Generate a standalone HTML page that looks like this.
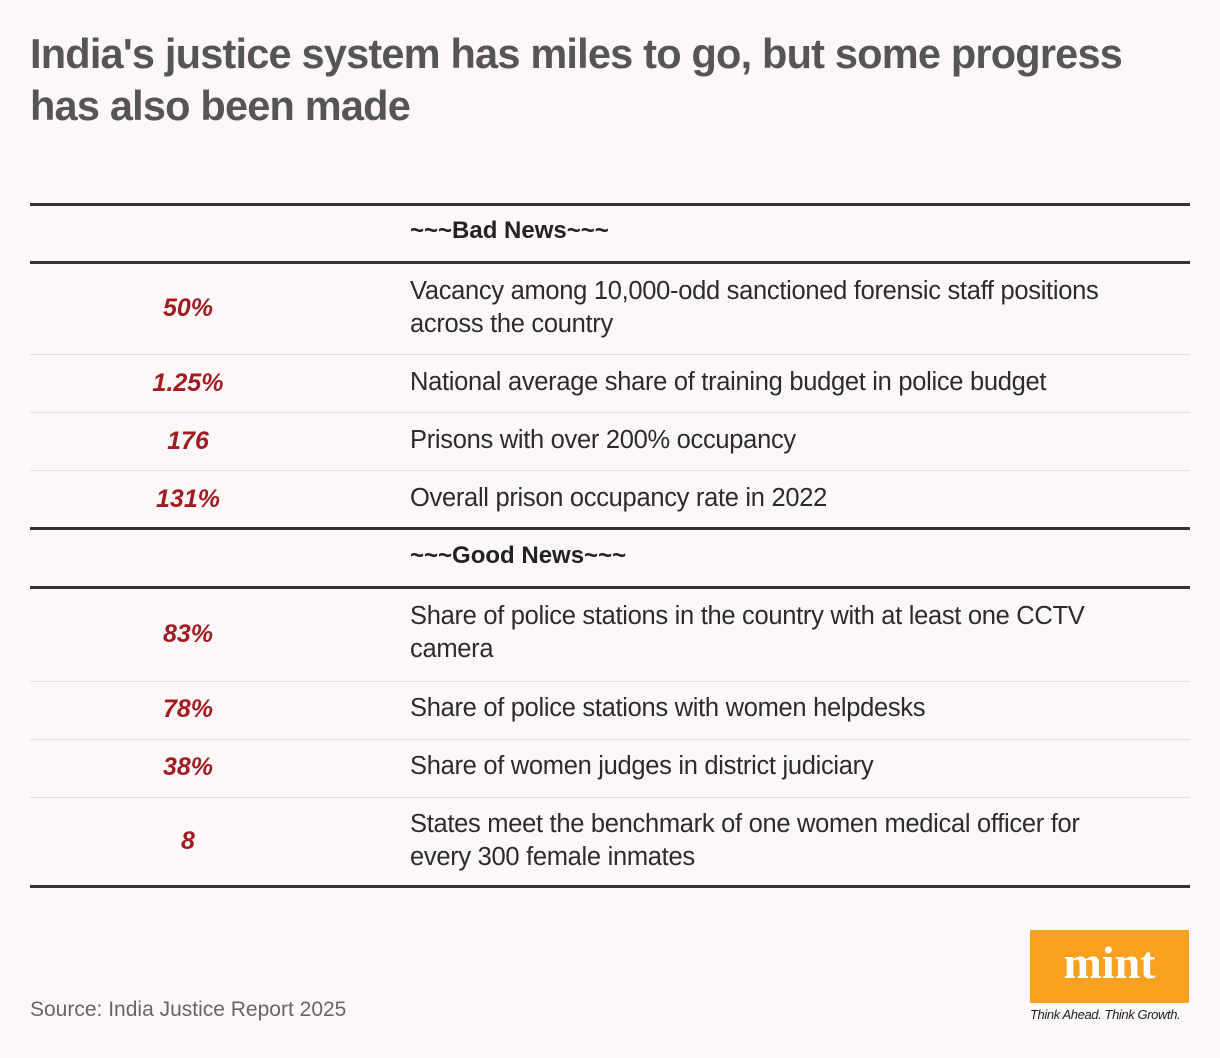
<!DOCTYPE html>
<html><head><meta charset="utf-8"><style>
body{margin:0;background:#fdf8f7;font-family:"Liberation Sans",sans-serif;}
#wrap{position:relative;width:1220px;height:1058px;overflow:hidden;}
.t{position:absolute;left:30px;top:28px;font-size:41.5px;font-weight:bold;color:#555;line-height:52px;letter-spacing:-0.8px;width:1130px}
.rule{position:absolute;left:30px;width:1160px;background:#333;}
.thin{height:1px;background:#e4dedd}
.thick{height:3px}
.v{position:absolute;left:30px;width:316px;text-align:center;color:#a11c22;font-weight:bold;font-style:italic;font-size:25px}
.d{position:absolute;left:410px;width:730px;color:#2b2b2b;font-size:25.5px;line-height:33px;letter-spacing:-0.3px}
.h{position:absolute;left:410px;font-weight:bold;font-size:24px;color:#222}
</style></head><body><div id="wrap">
<div class="t">India's justice system has miles to go, but some progress has also been made</div>
<div class="rule thick" style="top:203px"></div>
<div class="h" style="top:217px">~~~Bad News~~~</div>
<div class="rule thick" style="top:261px"></div>

<div class="v" style="top:294px">50%</div>
<div class="d" style="top:275px">Vacancy among 10,000-odd sanctioned forensic staff positions across the country</div>
<div class="rule thin" style="top:354px"></div>
<div class="v" style="top:369px">1.25%</div>
<div class="d" style="top:366px">National average share of training budget in police budget</div>
<div class="rule thin" style="top:412px"></div>
<div class="v" style="top:427px">176</div>
<div class="d" style="top:424px">Prisons with over 200% occupancy</div>
<div class="rule thin" style="top:470px"></div>
<div class="v" style="top:485px">131%</div>
<div class="d" style="top:482px">Overall prison occupancy rate in 2022</div>
<div class="rule thick" style="top:527px"></div>
<div class="h" style="top:542px">~~~Good News~~~</div>
<div class="rule thick" style="top:586px"></div>

<div class="v" style="top:620px">83%</div>
<div class="d" style="top:600px">Share of police stations in the country with at least one CCTV camera</div>
<div class="rule thin" style="top:681px"></div>
<div class="v" style="top:695px">78%</div>
<div class="d" style="top:692px">Share of police stations with women helpdesks</div>
<div class="rule thin" style="top:739px"></div>
<div class="v" style="top:753px">38%</div>
<div class="d" style="top:750px">Share of women judges in district judiciary</div>
<div class="rule thin" style="top:797px"></div>
<div class="v" style="top:827px">8</div>
<div class="d" style="top:808px">States meet the benchmark of one women medical officer for every 300 female inmates</div>
<div class="rule thick" style="top:885px"></div>

<div style="position:absolute;left:30px;top:998px;font-size:21px;color:#666">Source: India Justice Report 2025</div>
<div style="position:absolute;left:1030px;top:930px;width:159px;height:73px;background:#f7a11e;color:#fff;font-family:'Liberation Serif',serif;font-weight:bold;font-size:46px;text-align:center;line-height:66px">mint</div>
<div style="position:absolute;left:1030px;top:1007px;font-size:13px;font-style:italic;color:#222;letter-spacing:-0.4px">Think Ahead. Think Growth.</div>
</div></body></html>
